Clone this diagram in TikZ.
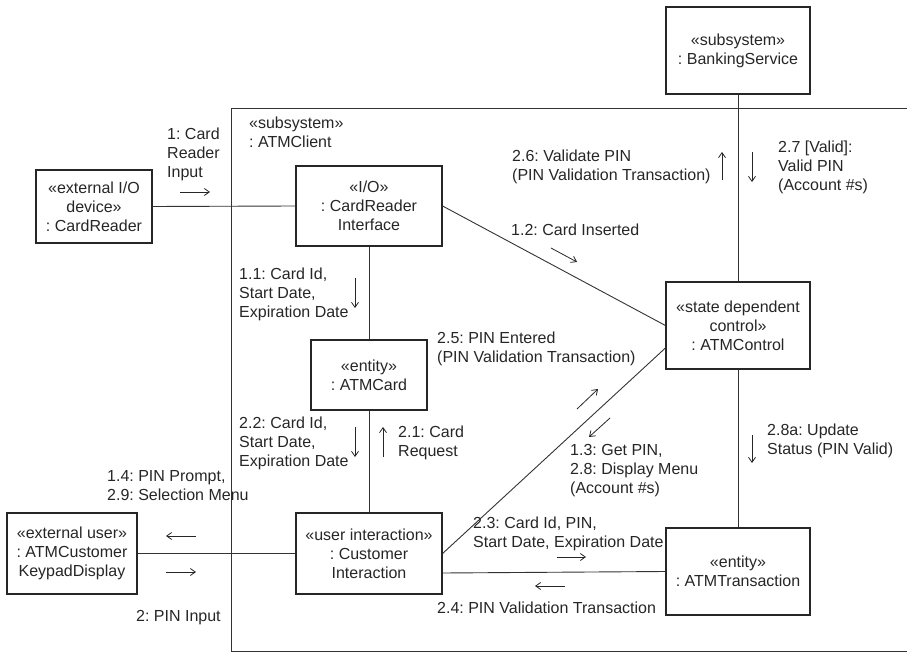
\documentclass[tikz,border=0pt]{standalone}
\usepackage{fontspec}
\setmainfont{Liberation Sans}
\usetikzlibrary{arrows.meta}
\frenchspacing
\begin{document}
\begin{tikzpicture}[x=1pt,y=-1pt,
  obj/.style={draw=black!85,line width=1.2pt,align=center,inner sep=0pt,text=black!85},
  lbl/.style={anchor=base west,align=left,inner sep=0pt,text=black!85},
  conn/.style={draw=black!80,line width=0.9pt},
  msg/.style={draw=black!85,line width=0.8pt,-{Straight Barb[length=5pt,width=7pt]}},
  font=\fontsize{16}{19}\selectfont\frenchspacing]
\useasboundingbox (0,0) rectangle (907,652);
% subsystem frame
\draw[conn] (907,108) -- (231,108) -- (231,651) -- (907,651);
% objects
\node[obj,minimum width=116pt,minimum height=73pt] (crd) at (94,206.5) {«external I/O\\device»\\: CardReader};
\node[obj,minimum width=146pt,minimum height=80pt] (cri) at (369,206) {«I/O»\\: CardReader\\Interface};
\node[obj,minimum width=116pt,minimum height=70pt] (card) at (369,375) {«entity»\\: ATMCard};
\node[obj,minimum width=146pt,minimum height=81pt] (cust) at (369,553.5) {«user interaction»\\: Customer\\Interaction};
\node[obj,minimum width=130pt,minimum height=81pt] (kpd) at (72,553.5) {«external user»\\: ATMCustomer\\KeypadDisplay};
\node[obj,minimum width=144pt,minimum height=87pt] (bank) at (738,50.5) {«subsystem»\\: BankingService};
\node[obj,minimum width=144pt,minimum height=87pt] (ctrl) at (738,325.5) {«state dependent\\control»\\: ATMControl};
\node[obj,minimum width=144pt,minimum height=87pt] (trans) at (738,571.5) {«entity»\\: ATMTransaction};
% connectors
\draw[conn] (crd.east) -- (cri.west);
\draw[conn] (cri.south) -- (card.north);
\draw[conn] (card.south) -- (cust.north);
\draw[conn] (kpd.east) -- (cust.west);
\draw[conn] (cri.east) -- (ctrl.west);
\draw[conn] (cust.east) -- ([yshift=-22.5pt]ctrl.west);
\draw[conn] ([yshift=-19.5pt]cust.east) -- (trans.west);
\draw[conn] (bank.south) -- (ctrl.north);
\draw[conn] (ctrl.south) -- (trans.north);
% labels (base = baseline of last line)
\node[lbl] (l0) at (249,148) {«subsystem»\\: ATMClient};
\node[lbl] (l1) at (167,178) {1: Card\\Reader\\Input};
\node[lbl] (l11) at (239,317) {1.1: Card Id,\\Start Date,\\Expiration Date};
\node[lbl] (l22) at (239,466) {2.2: Card Id,\\Start Date,\\Expiration Date};
\node[lbl] (l21) at (398,456) {2.1: Card\\Request};
\node[lbl] (l14) at (107,500) {1.4: PIN Prompt,\\2.9: Selection Menu};
\node[lbl] (l2) at (136,621) {2: PIN Input};
\node[lbl] (l25) at (437,362) {2.5: PIN Entered\\(PIN Validation Transaction)};
\node[lbl] (l13) at (570,493) {1.3: Get PIN,\\2.8: Display Menu\\(Account \#s)};
\node[lbl] (l23) at (473,547) {2.3: Card Id, PIN,\\Start Date, Expiration Date};
\node[lbl] (l24) at (437,613) {2.4: PIN Validation Transaction};
\node[lbl] (l28a) at (767,454) {2.8a: Update\\Status (PIN Valid)};
\node[lbl] (l26) at (512,181) {2.6: Validate PIN\\(PIN Validation Transaction)};
\node[lbl] (l27) at (778,191) {2.7 [Valid]:\\Valid PIN\\(Account \#s)};
\node[lbl] (l12) at (511,236) {1.2: Card Inserted};
% message arrows
\draw[msg] (180,192) -- (210,192);
\draw[msg] (355,278) -- (355,308);
\draw[msg] (355,427) -- (355,457);
\draw[msg] (383,457) -- (383,427);
\draw[msg] (196,536) -- (166,536);
\draw[msg] (166,572) -- (196,572);
\draw[msg] (577,409) -- (598,389);
\draw[msg] (610,418) -- (589,437);
\draw[msg] (557,557) -- (586,557);
\draw[msg] (565,586) -- (535,586);
\draw[msg] (752,435) -- (752,463);
\draw[msg] (722,180) -- (722,152);
\draw[msg] (752,152) -- (752,182);
\draw[msg] (551,248) -- (577,262);
\end{tikzpicture}
\end{document}
